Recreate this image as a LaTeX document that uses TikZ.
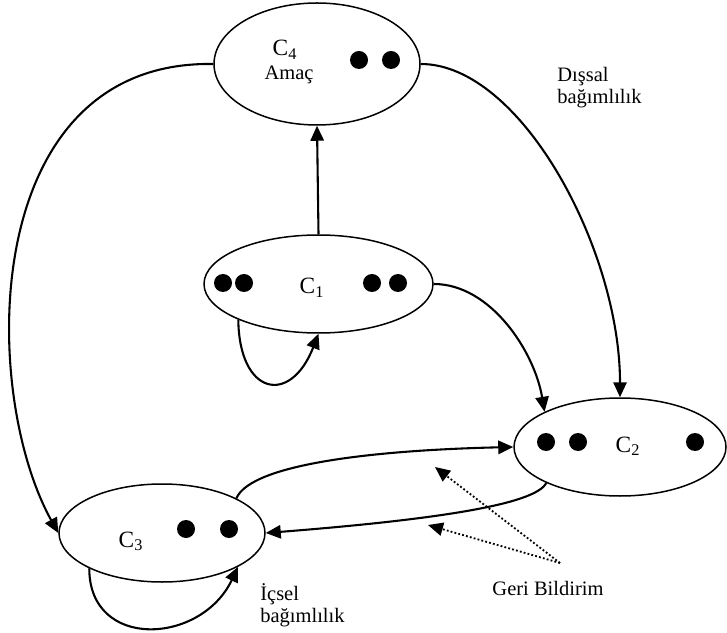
\documentclass[tikz,border=0pt]{standalone}
\usepackage{fontspec}
\setmainfont{Liberation Serif}
\usetikzlibrary{shapes.geometric,arrows.meta}

\begin{document}
\begin{tikzpicture}[
  x=0.6pt,
  y=-0.6pt,
  every node/.style={font=\fontsize{12.3}{14}\selectfont},
  cluster/.style={ellipse, draw, line width=0.9pt, inner sep=0pt},
  lbl/.style={anchor=base, inner sep=0pt},
  cname/.style={lbl, font=\fontsize{14}{16}\selectfont},
  note/.style={anchor=base west, inner sep=0pt},
  link/.style={line width=1.25pt, -{Triangle[length=9pt, width=8pt]}},
  feedback/.style={line width=1.1pt, dash pattern=on 1.1pt off 1.3pt,
    -{Triangle[length=9pt, width=8pt]}},
  elem/.style={fill=black}
]
  \useasboundingbox (0,0) rectangle (727,633);

  % ---- the four clusters --------------------------------------------
  \node[cluster, minimum width=123.6pt, minimum height=73.2pt] (c4) at (317,64) {};
  \node[cluster, minimum width=137.4pt, minimum height=58.8pt] (c1) at (318.5,284) {};
  \node[cluster, minimum width=127.2pt, minimum height=58.8pt] (c2) at (620,447) {};
  \node[cluster, minimum width=123.6pt, minimum height=58.8pt] (c3) at (162,533) {};

  % elements inside the clusters
  \foreach \p in {(359,60),(391,60),
                  (223,283),(244,283),(372,283),(398,283),
                  (546,442),(578,442),(695,442),
                  (186,529),(229,529)}
    \fill[elem] \p circle (5.4pt);

  \node[cname] (c4name) at (285,56) {C\textsubscript{4}};
  \node[lbl] (c4goal) at (289,80) {Amaç};
  \node[cname] (c1name) at (312,294) {C\textsubscript{1}};
  \node[cname] (c2name) at (628,452) {C\textsubscript{2}};
  \node[cname] (c3name) at (131,547) {C\textsubscript{3}};

  % ---- outer dependence ---------------------------------------------
  \draw[link] (c1.north) -- (c4.south);
  \draw[link] (c4.west) .. controls +(-234,-4) and +(-79,-143) .. (c3.west);
  \draw[link] (c4.east) .. controls +(100,0) and +(0,-148) .. (c2.north);
  \draw[link] (c1.east) .. controls +(57,0) and +(-10,-60) .. (c2.155);

  % ---- inner dependence and feedback --------------------------------
  \draw[link] (c1.204) .. controls +(1,76) and +(-28,72) .. (c1.south);
  \draw[link] (c3.206) .. controls +(0,82) and +(-37,78) .. (c3.336);
  \draw[link] (c3.25) .. controls +(15,-35) and +(-134,3) .. (c2.west);
  \draw[link] (c2.206) .. controls +(-11,22) and +(165,-13) .. (c3.east);

  \coordinate (fb) at (560,563);
  \coordinate (fbup) at (435,467);
  \coordinate (fbdown) at (428,525);
  \draw[feedback] (fb) -- (fbup);
  \draw[feedback] (fb) -- (fbdown);

  % ---- notes --------------------------------------------------------
  \node[note] (outer1) at (557,82) {Dışsal};
  \node[note] (outer2) at (557,104) {bağımlılık};
  \node[note] (inner1) at (260,600) {İçsel};
  \node[note] (inner2) at (260,622) {bağımlılık};
  \node[lbl] (fbtext) at (548,595) {Geri Bildirim};

\end{tikzpicture}
\end{document}
